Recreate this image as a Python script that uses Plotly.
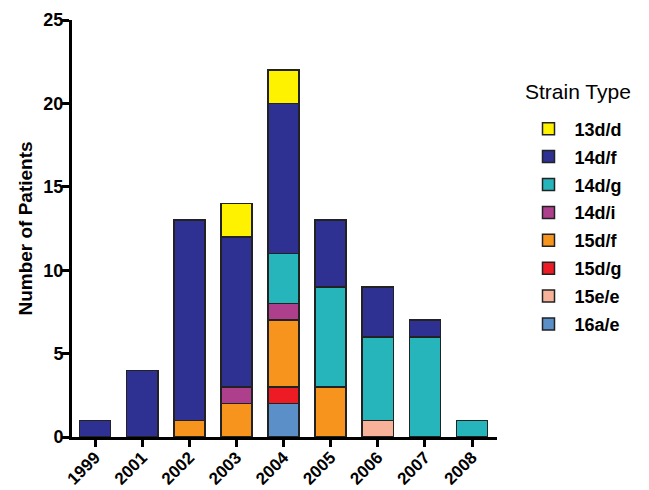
import plotly.graph_objects as go

years = ["1999", "2001", "2002", "2003", "2004", "2005", "2006", "2007", "2008"]

# stack order bottom -> top
strains = ["16a/e", "15e/e", "15d/g", "15d/f", "14d/i", "14d/g", "14d/f", "13d/d"]
colors = ["#5B8FC8", "#F9B29A", "#ED1C24", "#F7941E", "#AE3F8C", "#26B5BB", "#2E3192", "#FFF200"]

s_16ae = [0, 0, 0, 0, 2, 0, 0, 0, 0]
s_15ee = [0, 0, 0, 0, 0, 0, 1, 0, 0]
s_15dg = [0, 0, 0, 0, 1, 0, 0, 0, 0]
s_15df = [0, 0, 1, 2, 4, 3, 0, 0, 0]
s_14di = [0, 0, 0, 1, 1, 0, 0, 0, 0]
s_14dg = [0, 0, 0, 0, 3, 6, 5, 6, 1]
s_14df = [1, 4, 12, 9, 9, 4, 3, 1, 0]
s_13dd = [0, 0, 0, 2, 2, 0, 0, 0, 0]

values = [s_16ae, s_15ee, s_15dg, s_15df, s_14di, s_14dg, s_14df, s_13dd]

font = "Liberation Sans, Arial, sans-serif"

fig = go.Figure()
n = len(strains)
for i, (name, col, vals) in enumerate(zip(strains, colors, values)):
    fig.add_trace(go.Bar(
        x=years, y=vals, name=name,
        marker=dict(color=col, line=dict(color="#222222", width=1.5)),
        width=0.66, legendgroup=name, legendrank=n - i,
    ))

fig.add_annotation(
    text="Strain Type", xref="paper", yref="paper", x=1.06, y=(437 - 91) / 417,
    xanchor="left", yanchor="middle", showarrow=False,
    font=dict(size=21, family=font, color="black"),
)

fig.update_layout(
    barmode="stack",
    width=649, height=490,
    margin=dict(l=72, r=152, t=20, b=53),
    plot_bgcolor="white", paper_bgcolor="white",
    font=dict(family=font, color="black"),
    legend=dict(
        traceorder="grouped",
        font=dict(size=18, family=font, weight="bold"),
        x=1.06, y=0.783, xanchor="left", yanchor="top",
        tracegroupgap=1.5,
        itemwidth=42,
    ),
    xaxis=dict(
        type="category", range=[-0.49, 8.53], automargin=False,
        showline=True, linecolor="black", linewidth=3,
        ticks="outside", ticklen=7, tickwidth=3, tickcolor="black",
        ticklabelstandoff=-6,
        tickangle=-45, tickfont=dict(size=17, family=font, weight="bold"),
        showgrid=False,
    ),
    yaxis=dict(
        range=[0, 25], tickvals=[0, 5, 10, 15, 20, 25], automargin=False,
        showline=True, linecolor="black", linewidth=3,
        ticks="outside", ticklen=7, tickwidth=3, tickcolor="black",
        ticklabelstandoff=-5,
        tickfont=dict(size=18, family=font, weight="bold"),
        title=dict(text="Number of Patients", font=dict(size=19, family=font, weight="bold"), standoff=6),
        showgrid=False, zeroline=False,
    ),
)

fig.write_html("out.html", config={"displayModeBar": False},
               post_script="document.body.style.margin='0';")
